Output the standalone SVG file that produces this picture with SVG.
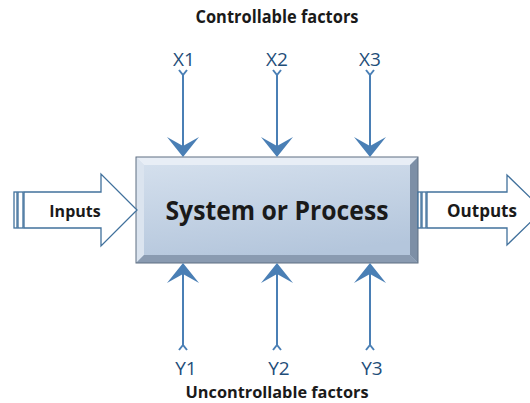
<svg xmlns="http://www.w3.org/2000/svg" width="530" height="403" viewBox="0 0 530 403">
<defs>
<linearGradient id="face" x1="0" y1="0" x2="0.3" y2="1">
<stop offset="0" stop-color="#d6e1ee"/>
<stop offset="1" stop-color="#b4c6dc"/>
</linearGradient>
</defs>
<style>
.lbl{font-family:"Open Sans","Liberation Sans",sans-serif;font-weight:bold;fill:#1a1a1a}
.var{font-family:"Open Sans","Liberation Sans",sans-serif;fill:#1f4e79;font-size:19px}
.shaft{stroke:#4a7fb5;stroke-width:2;fill:none}
.head{fill:#4a7fb5}
.big{fill:#fff;stroke:#41719c;stroke-width:1.3}
</style>
<text class="lbl" x="277" y="23" text-anchor="middle" font-size="17" textLength="163" lengthAdjust="spacingAndGlyphs">Controllable factors</text>
<text class="lbl" x="277" y="398" text-anchor="middle" font-size="16" textLength="183" lengthAdjust="spacingAndGlyphs">Uncontrollable factors</text>

<g id="process">
<rect x="136" y="157" width="282" height="106" fill="url(#face)"/>
<polygon points="136,157 418,157 410,165 144,165" fill="#e8eef6"/>
<polygon points="136,157 144,165 144,255 136,263" fill="#dbe4ef"/>
<polygon points="418,157 418,263 410,255 410,165" fill="#7d8fa6"/>
<polygon points="136,263 418,263 410,255 144,255" fill="#8a9bb1"/>
<rect x="136" y="157" width="282" height="106" fill="none" stroke="#5f6f82" stroke-width="1"/>
<text class="lbl" x="277" y="220" text-anchor="middle" font-size="27" textLength="223" lengthAdjust="spacingAndGlyphs">System or Process</text>
</g>

<g id="inputs">
<polygon class="big" points="24,192 101,192 101,174 137,210 101,246 101,228 24,228"/>
<rect class="big" x="14" y="192" width="3" height="36"/>
<rect class="big" x="18" y="192" width="5" height="36"/>
<text class="lbl" x="75" y="217" text-anchor="middle" font-size="16">Inputs</text>
</g>

<g id="outputs">
<polygon class="big" points="427,192 507,192 507,175 543,210 507,245 507,228 427,228"/>
<rect class="big" x="418" y="192" width="3" height="36"/>
<rect class="big" x="422" y="192" width="4" height="36"/>
<text class="lbl" x="482" y="217" text-anchor="middle" font-size="17">Outputs</text>
</g>

<g id="x1"><text class="var" x="184" y="66" text-anchor="middle">X1</text></g>
<g id="x2"><text class="var" x="277" y="66" text-anchor="middle">X2</text></g>
<g id="x3"><text class="var" x="370" y="66" text-anchor="middle">X3</text></g>
<g id="y1"><text class="var" x="186" y="375" text-anchor="middle">Y1</text></g>
<g id="y2"><text class="var" x="279" y="375" text-anchor="middle">Y2</text></g>
<g id="y3"><text class="var" x="372" y="375" text-anchor="middle">Y3</text></g>

<g id="connectors">
<path class="shaft" d="M183,74 V148 M179,70 L183,75 L187,70"/>
<polygon class="head" points="167,137 183,146 199,137 183,157"/>
<path class="shaft" d="M277,74 V148 M273,70 L277,75 L281,70"/>
<polygon class="head" points="261,137 277,146 293,137 277,157"/>
<path class="shaft" d="M370,74 V148 M366,70 L370,75 L374,70"/>
<polygon class="head" points="354,137 370,146 386,137 370,157"/>

<path class="shaft" d="M183,346 V272 M179,350 L183,345 L187,350"/>
<polygon class="head" points="167,283 183,274 199,283 183,263"/>
<path class="shaft" d="M277,346 V272 M273,350 L277,345 L281,350"/>
<polygon class="head" points="261,283 277,274 293,283 277,263"/>
<path class="shaft" d="M370,346 V272 M366,350 L370,345 L374,350"/>
<polygon class="head" points="354,283 370,274 386,283 370,263"/>
</g>
</svg>
